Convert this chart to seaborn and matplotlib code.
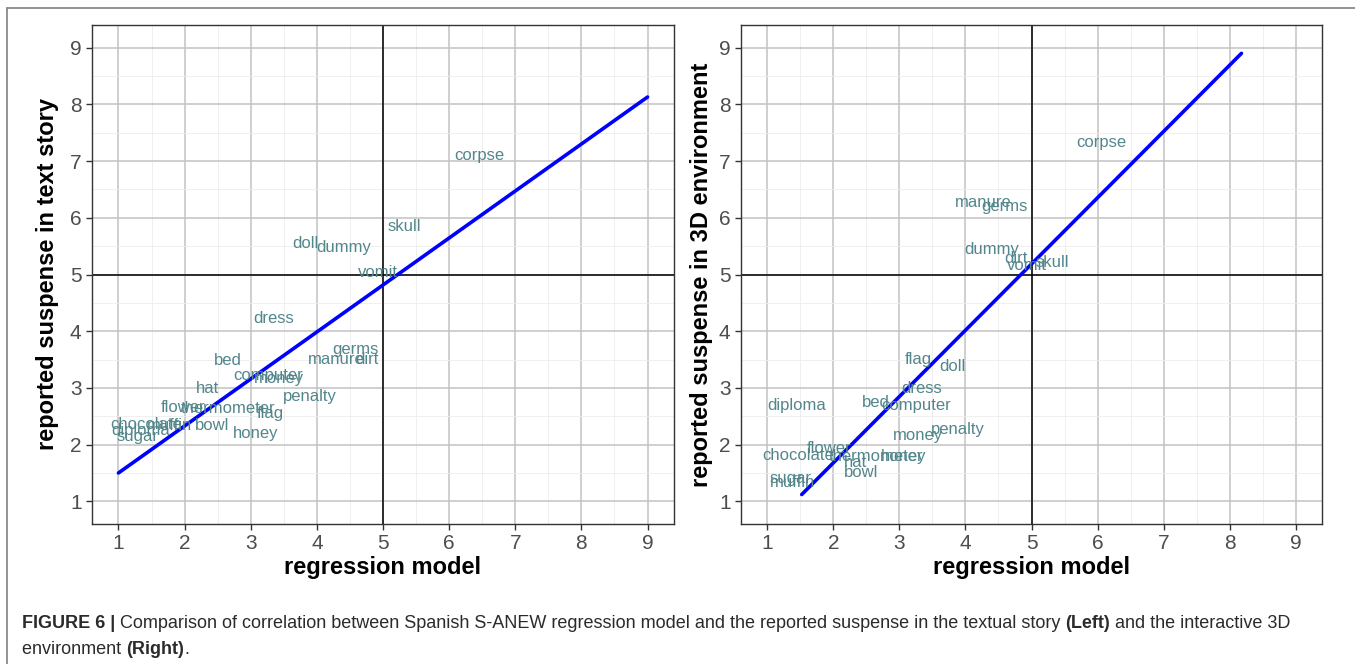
import matplotlib
matplotlib.use("Agg")
import matplotlib.pyplot as plt
import seaborn as sns
import pandas as pd
from matplotlib.lines import Line2D

# ---------------- data ----------------
words_left = ["corpse", "skull", "doll", "dummy", "vomit", "dress", "germs", "manure", "dirt",
              "bed", "computer", "money", "hat", "penalty", "flower", "thermometer", "flag",
              "bowl", "honey", "chocolate", "muffin", "diploma", "sugar"]
x_left = [6.45, 5.33, 3.83, 4.41, 4.92, 3.35, 4.58, 4.29, 4.76,
          2.65, 3.26, 3.42, 2.34, 3.90, 1.98, 2.66, 3.29,
          2.42, 3.07, 1.42, 1.78, 1.33, 1.29]
y_left = [7.10, 5.85, 5.54, 5.47, 5.03, 4.22, 3.68, 3.50, 3.50,
          3.48, 3.22, 3.17, 2.99, 2.85, 2.66, 2.64, 2.55,
          2.34, 2.20, 2.36, 2.34, 2.25, 2.15]

words_right = ["corpse", "manure", "germs", "dummy", "dirt", "vomit", "skull", "flag", "doll",
               "dress", "diploma", "bed", "computer", "penalty", "money", "flower", "chocolate",
               "thermometer", "hat", "honey", "bowl", "sugar", "muffin"]
x_right = [6.05, 4.27, 4.59, 4.40, 4.77, 4.93, 5.31, 3.28, 3.80,
           3.34, 1.44, 2.65, 3.25, 3.89, 3.28, 1.94, 1.47,
           2.65, 2.34, 3.07, 2.42, 1.35, 1.38]
y_right = [7.33, 6.27, 6.20, 5.44, 5.28, 5.16, 5.21, 3.50, 3.38,
           2.99, 2.69, 2.74, 2.69, 2.27, 2.16, 1.93, 1.81,
           1.79, 1.69, 1.79, 1.51, 1.40, 1.33]

line_left_x = [1.0, 9.0]
line_left_y = [1.5, 8.13]
line_right_x = [1.52, 8.18]
line_right_y = [1.12, 8.9]

ticks = [1, 2, 3, 4, 5, 6, 7, 8, 9]
minor_ticks = [1.5, 2.5, 3.5, 4.5, 5.5, 6.5, 7.5, 8.5]

xlabel = "regression model"
ylabel_left = "reported suspense in text story"
ylabel_right = "reported suspense in 3D environment"

# ---------------- style ----------------
sns.set_theme(style="whitegrid")
plt.rcParams['font.family'] = ['Liberation Sans', 'DejaVu Sans']

W, H = 1355, 664
fig = plt.figure(figsize=(W / 100, H / 100), dpi=100)
fig.patch.set_facecolor("white")

ax1 = fig.add_axes([92 / W, 1 - 524 / H, 582 / W, 499 / H])
ax2 = fig.add_axes([741 / W, 1 - 524 / H, 581 / W, 499 / H])

label_color = "#53868B"


def draw_panel(ax, words, xs, ys, lx, ly, ylab, pad):
    ax.set_facecolor("white")
    ax.set_axisbelow(True)
    ax.set_xlim(0.6, 9.4)
    ax.set_ylim(0.6, 9.4)
    ax.set_xticks(ticks)
    ax.set_yticks(ticks)
    ax.set_xticks(minor_ticks, minor=True)
    ax.set_yticks(minor_ticks, minor=True)
    ax.grid(which="major", color="#c2c2c2", linewidth=1.1)
    ax.grid(which="minor", color="#ececec", linewidth=0.6)
    ax.axvline(5, color="black", linewidth=1.1, zorder=1.5)
    ax.axhline(5, color="black", linewidth=1.1, zorder=1.5)
    df = pd.DataFrame({"x": lx, "y": ly})
    sns.lineplot(data=df, x="x", y="y", ax=ax, color="#0000ff", linewidth=2.6, zorder=3)
    for w, x, y in zip(words, xs, ys):
        ax.text(x, y, w, color=label_color, fontsize=12, ha="center", va="center", zorder=4)
    for s in ax.spines.values():
        s.set_color("#333333")
        s.set_linewidth(1.0)
    ax.tick_params(which="major", length=4, color="#333333", labelsize=15,
                   labelcolor="#4d4d4d", bottom=True, left=True, width=1)
    ax.tick_params(which="minor", length=0)
    ax.set_xlabel(xlabel, fontsize=17, fontweight="bold", color="black", labelpad=2)
    ax.set_ylabel(ylab, fontsize=17, fontweight="bold", color="black", labelpad=pad)


draw_panel(ax1, words_left, x_left, y_left, line_left_x, line_left_y, ylabel_left, 8)
draw_panel(ax2, words_right, x_right, y_right, line_right_x, line_right_y, ylabel_right, 4)

# outer frame (left + top)
fig.add_artist(Line2D([7 / W, 7 / W], [0, 1 - 8 / H], transform=fig.transFigure,
                      color="#8a8a8a", linewidth=1.3))
fig.add_artist(Line2D([7 / W, 1], [1 - 8 / H, 1 - 8 / H], transform=fig.transFigure,
                      color="#8a8a8a", linewidth=1.3))

# caption
renderer = fig.canvas.get_renderer()
cap_color = "#2b2b2b"
cap_size = 13.0


def write_line(pieces, x0, y):
    x = x0
    for txt, bold in pieces:
        t = fig.text(x / W, 1 - y / H, txt, fontsize=cap_size, color=cap_color,
                     fontweight="bold" if bold else "normal", va="baseline", ha="left")
        bb = t.get_window_extent(renderer=renderer)
        x += bb.width


write_line([("FIGURE 6 | ", True),
            ("Comparison of correlation between Spanish S-ANEW regression model and the reported "
             "suspense in the textual story ", False),
            ("(Left)", True), (" and the interactive 3D", False)], 22, 628)
write_line([("environment ", False), ("(Right)", True), (".", False)], 22, 654)

fig.savefig("out.png", dpi=100)
